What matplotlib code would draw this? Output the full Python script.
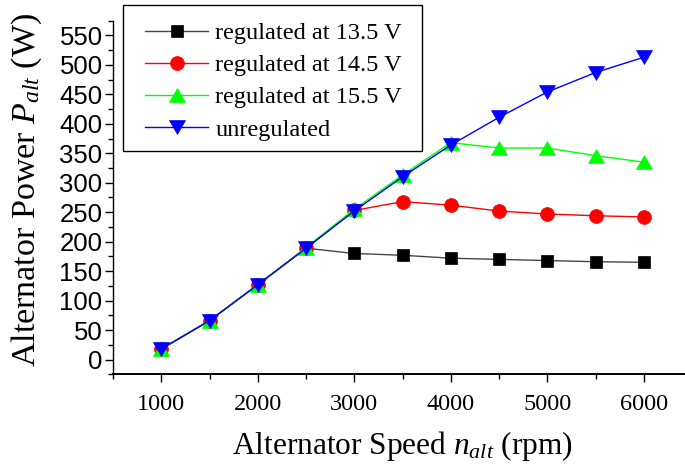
import matplotlib
matplotlib.use('Agg')
import matplotlib.pyplot as plt
from matplotlib.ticker import MultipleLocator
from matplotlib.patches import Rectangle

# alternator speed (rpm)
speed = [1000, 1500, 2000, 2500, 3000, 3500, 4000, 4500, 5000, 5500, 6000]

# output power (W) for each regulation setting
p_135 = [18, 66, 127, 189, 180, 177, 172, 170, 168, 166, 165]
p_145 = [18, 66, 127, 189, 253, 268, 262, 252, 247, 244, 242]
p_155 = [18, 66, 127, 190, 255, 313, 368, 359, 359, 346, 335]
p_unreg = [18, 66, 127, 189, 252, 310, 364, 411, 454, 487, 513]

labels = ['regulated at 13.5 V', 'regulated at 14.5 V',
          'regulated at 15.5 V', 'unregulated']

plt.rcParams['mathtext.fontset'] = 'custom'
plt.rcParams['mathtext.rm'] = 'Liberation Serif'
plt.rcParams['mathtext.it'] = 'Liberation Serif:italic'

# equilateral triangles, like the original plotting program
tri_up = [(-1, -0.866), (1, -0.866), (0, 0.866), (-1, -0.866)]
tri_down = [(-1, 0.866), (1, 0.866), (0, -0.866), (-1, 0.866)]

fig = plt.figure(figsize=(6.85, 4.67), dpi=100)
ax = fig.add_axes([113 / 685, (467 - 374.3) / 467, (692 - 113) / 685, (374.3 - 20.7) / 467])

ax.plot(speed, p_135, color='#444444', lw=1, marker='s', ms=9.2,
        mfc='black', mec='black', mew=0.5, label=labels[0])
ax.plot(speed, p_145, color='red', lw=1, marker='o', ms=10,
        mfc='red', mec='red', mew=0.5, label=labels[1])
ax.plot(speed, p_155, color='#00ff00', lw=1, marker=tri_up, ms=11.5,
        mfc='#00ff00', mec='#00ff00', mew=0.5, label=labels[2])
ax.plot(speed, p_unreg, color='#0000ff', lw=1, marker=tri_down, ms=11.5,
        mfc='#0000ff', mec='#0000ff', mew=0.5, label=labels[3])

ax.set_xlim(500, 6500)
ax.set_ylim(-25, 575)
ax.spines['top'].set_visible(False)
ax.spines['right'].set_visible(False)
ax.spines['left'].set_linewidth(1.0)
ax.spines['bottom'].set_linewidth(1.4)

ax.xaxis.set_major_locator(MultipleLocator(1000))
ax.xaxis.set_minor_locator(MultipleLocator(500))
ax.yaxis.set_major_locator(MultipleLocator(50))
ax.yaxis.set_minor_locator(MultipleLocator(25))
ax.tick_params(which='major', direction='out', length=6, width=1)
ax.tick_params(which='minor', direction='out', length=3.5, width=1)
ax.tick_params(axis='y', which='major', pad=1.5)
ax.tick_params(axis='x', which='major', pad=8)

for t in ax.get_xticklabels():
    t.set_fontfamily('Liberation Serif')
    t.set_fontsize(17.5)
for t in ax.get_yticklabels():
    t.set_fontfamily('Liberation Sans')
    t.set_fontsize(18.5)

ax.set_xlabel(r'Alternator Speed $n_{alt}$ (rpm)', fontfamily='Liberation Serif',
              fontsize=22.6)
ax.xaxis.set_label_coords(0.5, -0.155)
ax.set_ylabel(r'Alternator Power $P_{alt}$ (W)', fontfamily='Liberation Serif',
              fontsize=24.5)
ax.yaxis.set_label_coords(-0.12, 0.52)

leg = ax.legend(loc='upper left', bbox_to_anchor=(145 / 685, 1 - 22 / 467),
                bbox_transform=fig.transFigure, frameon=False,
                prop={'family': 'Liberation Serif', 'size': 17.5},
                handlelength=2.6, handletextpad=0.3, labelspacing=0.42,
                borderpad=0, borderaxespad=0)
leg.set_zorder(6)

# legend frame
ax.add_patch(Rectangle((123.3 / 685, 1 - 151 / 467), (421.7 - 123.3) / 685,
                       (151 - 4.7) / 467, transform=fig.transFigure,
                       facecolor='white', edgecolor='black', lw=1,
                       zorder=5, clip_on=False))

fig.savefig('out.png', dpi=100)
